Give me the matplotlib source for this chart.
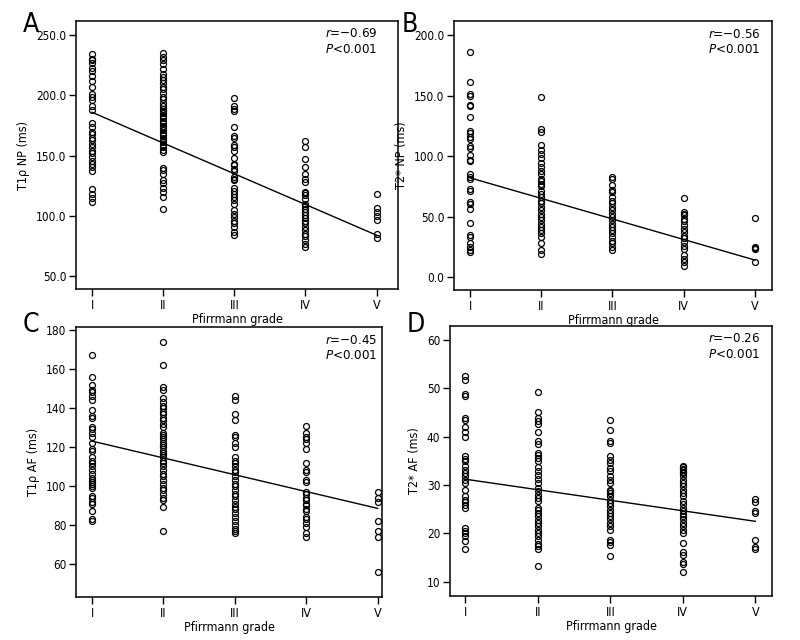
import matplotlib
matplotlib.use('Agg')
import matplotlib.pyplot as plt
import numpy as np

plt.rcParams['font.family'] = ['DejaVu Sans']
plt.rcParams['font.stretch'] = 'condensed'
plt.rcParams['mathtext.fontset'] = 'custom'
plt.rcParams['mathtext.it'] = 'DejaVu Sans:italic'
plt.rcParams['mathtext.rm'] = 'DejaVu Sans'

grades = ['I', 'II', 'III', 'IV', 'V']

# Données : une liste par grade de Pfirrmann
t1p_np = [
    [234, 230, 229, 227, 223, 220, 216, 212, 207, 201, 199, 196, 191, 188, 177, 174, 170,
     168, 165, 163, 160, 157, 154, 152, 149, 146, 143, 141, 137, 122, 118, 115, 112],
    [235, 232, 229, 226, 222, 218, 215, 213, 210, 207, 205, 202, 199, 197, 194, 191, 189,
     187, 185, 183, 181, 179, 177, 175, 173, 171, 169, 167, 165, 163, 161, 159, 157, 155,
     153, 140, 138, 135, 130, 127, 123, 120, 116, 106],
    [198, 191, 189, 187, 174, 166, 165, 159, 157, 154, 148, 143, 142, 139, 137, 132, 131,
     130, 123, 121, 118, 116, 113, 110, 105, 102, 99, 96, 94, 91, 87, 84],
    [162, 157, 147, 141, 135, 131, 128, 120, 119, 117, 114, 110, 108, 106, 103, 101, 98,
     96, 94, 91, 88, 85, 83, 80, 77, 74],
    [118, 107, 103, 100, 97, 85, 82],
]
t2s_np = [
    [186, 161, 151, 150, 142, 141, 132, 121, 119, 116, 114, 108, 107, 101, 97, 96, 85, 83,
     81, 73, 71, 62, 60, 56, 45, 35, 33, 28, 25, 22, 21],
    [149, 122, 120, 109, 105, 102, 98, 94, 91, 88, 85, 81, 79, 77, 75, 71, 69, 66, 63, 61,
     58, 55, 52, 50, 47, 44, 41, 39, 36, 33, 28, 22, 19],
    [83, 81, 76, 72, 70, 66, 63, 61, 58, 55, 52, 50, 47, 44, 41, 39, 36, 33, 30, 28, 25, 22],
    [65, 54, 52, 51, 48, 46, 43, 40, 37, 34, 32, 29, 26, 23, 18, 15, 12, 9],
    [49, 25, 24, 23, 12],
]
t1p_af = [
    [167, 156, 152, 149, 148, 146, 144, 139, 136, 135, 130, 129, 127, 125, 122, 119, 118,
     115, 113, 112, 110, 108, 106, 104, 103, 102, 101, 100, 99, 95, 94, 92, 91, 87, 83, 82],
    [174, 162, 151, 149, 145, 143, 141, 140, 138, 137, 135, 134, 132, 130, 127, 126, 125,
     124, 122, 121, 120, 118, 117, 116, 115, 113, 112, 110, 108, 106, 105, 103, 101, 99,
     98, 96, 94, 93, 89, 77],
    [146, 144, 137, 134, 126, 125, 122, 120, 115, 113, 112, 110, 108, 107, 105, 103, 101,
     100, 98, 96, 95, 93, 91, 89, 88, 86, 84, 82, 80, 78, 77, 76],
    [131, 127, 125, 124, 122, 119, 112, 108, 107, 103, 102, 97, 96, 94, 93, 91, 90, 88, 87,
     84, 83, 81, 79, 76, 74],
    [97, 94, 92, 82, 77, 74, 56],
]
t2s_af = [
    [52.6, 51.7, 48.9, 48.4, 43.8, 43.5, 41.9, 41.0, 40.0, 35.9, 35.4, 34.9, 33.9, 33.2,
     32.4, 31.8, 31.1, 30.4, 28.9, 27.7, 27.0, 26.4, 25.8, 25.3, 21.1, 20.5, 20.1, 19.4,
     18.4, 16.8],
    [49.3, 45.0, 43.8, 43.2, 42.7, 41.0, 39.0, 38.5, 36.6, 36.3, 35.6, 34.9, 33.7, 32.8,
     32.0, 31.3, 30.4, 29.4, 28.7, 28.0, 27.3, 26.6, 25.3, 24.8, 24.2, 23.5, 22.8, 22.2,
     21.5, 20.8, 20.1, 19.4, 18.7, 17.9, 17.4, 16.7, 13.2],
    [43.5, 41.4, 39.0, 38.7, 35.9, 35.2, 34.6, 33.5, 32.8, 31.8, 31.1, 30.4, 29.0, 28.7,
     28.4, 27.7, 27.0, 26.3, 25.6, 24.9, 24.2, 23.5, 22.9, 22.2, 21.5, 20.7, 18.7, 18.2,
     17.7, 15.4],
    [34.0, 33.7, 33.3, 33.0, 32.6, 32.4, 31.8, 31.1, 30.4, 29.7, 29.0, 28.4, 27.7, 26.6,
     26.0, 25.3, 24.6, 24.1, 23.5, 22.9, 22.2, 21.5, 20.8, 20.1, 18.0, 16.1, 15.6, 14.0,
     13.6, 12.0],
    [27.1, 26.4, 24.6, 24.3, 18.7, 17.2, 16.8],
]

# Droites de régression : valeur au grade I et au grade V
fit_t1p_np = [186, 84]
fit_t2s_np = [82, 14]
fit_t1p_af = [123, 88.5]
fit_t2s_af = [31.2, 22.5]

stats = ['−0.69', '−0.56', '−0.45', '−0.26']
ylabels = ['T1ρ NP (ms)', 'T2* NP (ms)', 'T1ρ AF (ms)', 'T2* AF (ms)']
letters = ['A', 'B', 'C', 'D']

fig = plt.figure(figsize=(8, 6.4), dpi=100)

panneaux = [
    # (données, droite, rect, xlim, ylim, yticks, format, x du texte)
    (t1p_np, fit_t1p_np, [0.095, 0.548, 0.4025, 0.419], (0.775, 5.3), (39.2, 261.6),
     np.arange(50, 251, 50), '{:.1f}', 0.773),
    (t2s_np, fit_t2s_np, [0.5675, 0.547, 0.3975, 0.42], (0.775, 5.24), (-10.7, 211.6),
     np.arange(0, 201, 50), '{:.1f}', 0.80),
    (t1p_af, fit_t1p_af, [0.095, 0.067, 0.3825, 0.422], (0.775, 5.06), (43, 181.5),
     np.arange(60, 181, 20), '{:.0f}', 0.814),
    (t2s_af, fit_t2s_af, [0.5625, 0.069, 0.4025, 0.422], (0.79, 5.23), (7.1, 62.9),
     np.arange(10, 61, 10), '{:.0f}', 0.80),
]

lettre_pos = [(0.028, 0.982), (0.502, 0.982), (0.028, 0.512), (0.508, 0.512)]

for i, (data, fit, rect, xl, yl, yt, fmt, tx) in enumerate(panneaux):
    ax = fig.add_axes(rect)
    for g, vals in enumerate(data):
        ax.plot([g + 1] * len(vals), vals, 'o', mfc='none', mec='black', ms=4.3, mew=0.9)
    ax.plot([1, 5], fit, color='black', lw=1)

    ax.set_xlim(*xl)
    ax.set_ylim(*yl)
    ax.set_xticks(range(1, 6))
    ax.set_xticklabels(grades, fontsize=9)
    ax.set_yticks(yt)
    ax.set_yticklabels([fmt.format(v) for v in yt], fontsize=8.5)
    ax.tick_params(direction='out', length=5, width=1, pad=2)
    for s in ax.spines.values():
        s.set_linewidth(1.1)
    ax.set_xlabel('Pfirrmann grade', fontsize=9, labelpad=1)
    ax.set_ylabel(ylabels[i], fontsize=9, labelpad=4)

    ax.text(tx, 0.952, r'$r$=' + stats[i], transform=ax.transAxes, fontsize=9.5, va='center')
    ax.text(tx, 0.893, r'$P$<0.001', transform=ax.transAxes, fontsize=9.5, va='center')

    fig.text(lettre_pos[i][0], lettre_pos[i][1], letters[i], fontsize=19, va='top')

plt.savefig('out.png', dpi=100)
